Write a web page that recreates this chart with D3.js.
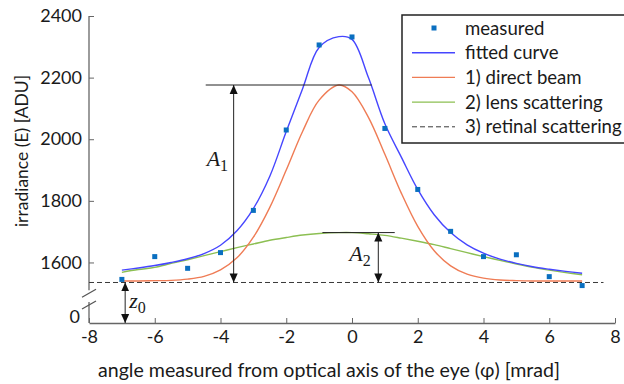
<!DOCTYPE html>
<html>
<head>
<meta charset="utf-8">
<script src="https://cdn.jsdelivr.net/npm/d3@7"></script>
<style>
body { margin: 0; background: #fff; }
text { font-family: Lato, "Open Sans", sans-serif; fill: #1a1a1a; }
</style>
</head>
<body>
<script>
// tick labels
var xTicks = [-8, -6, -4, -2, 0, 2, 4, 6, 8];
var yTicks = [0, 1600, 1800, 2000, 2200, 2400];

// measured points
var measuredX = [-7, -6, -5, -4, -3, -2, -1, 0, 1, 2, 3, 4, 5, 6, 7];
var measuredY = [1545, 1619, 1581, 1632, 1769, 2030, 2306, 2332, 2035, 1837, 1701, 1619, 1625, 1554, 1525];

// curves
var curveX  = [-7, -6.5, -6, -5.5, -5, -4.5, -4, -3.5, -3, -2.5, -2, -1.5, -1, -0.4, 0, 0.5, 1, 1.5, 2, 2.5, 3, 3.5, 4, 4.5, 5, 5.5, 6, 6.5, 7];
var fittedY = [1575, 1582, 1590, 1600, 1612, 1629, 1656, 1703, 1775, 1880, 2025, 2165, 2298, 2333, 2324, 2200, 2050, 1942, 1837, 1755, 1697, 1657, 1630, 1611, 1597, 1586, 1578, 1571, 1565];
var directY = [1540, 1540, 1541, 1542, 1546, 1555, 1576, 1615, 1682, 1779, 1900, 2026, 2127, 2176, 2154, 2071, 1951, 1825, 1717, 1638, 1589, 1562, 1549, 1543, 1541, 1540, 1540, 1540, 1540];
var lensY   = [1568, 1577, 1584, 1597, 1609, 1622, 1635, 1648, 1660, 1672, 1681, 1689, 1694, 1697, 1697, 1693, 1688, 1679, 1669, 1658, 1645, 1632, 1619, 1607, 1595, 1584, 1575, 1567, 1560];

// retinal scattering level and annotation values
var z0 = 1535;
var retinalX = [-8, 7.65];
var A1 = { x: -3.6, top: 2176, lineX: [-4.45, 0.6] };
var A2 = { x: 0.8, top: 1697, lineX: [-0.9, 1.3] };
var z0Arrow = { x: -6.9 };

var legendLabels = ["measured", "fitted curve", "1) direct beam", "2) lens scattering", "3) retinal scattering"];
var colors = { measured: "#0a6fc0", fitted: "#4646ff", direct: "#ef7c55", lens: "#8cbf52", retinal: "#3a3a3a" };

var W = 624, H = 384;
var svg = d3.select("body").append("svg").attr("width", W).attr("height", H);

var x = d3.scaleLinear().domain([-8, 8]).range([89, 615]);
// broken y axis: 0 at the bottom, then jump to ~1460
var y = d3.scaleLinear().domain([0, 1460, 2400]).range([323, 305.6, 16]);

// arrow marker
svg.append("defs").append("marker")
    .attr("id", "arrow")
    .attr("viewBox", "0 0 10 10")
    .attr("refX", 10).attr("refY", 5)
    .attr("markerUnits", "userSpaceOnUse")
    .attr("markerWidth", 9).attr("markerHeight", 9)
    .attr("orient", "auto-start-reverse")
    .append("path").attr("d", "M0,0.5L10,5L0,9.5z").attr("fill", "#111");

// x axis
var xAxis = svg.append("g")
    .attr("transform", "translate(0," + y(0) + ")")
    .call(d3.axisBottom(x).tickValues(xTicks).tickSizeInner(-5).tickSizeOuter(0).tickPadding(7)
      .tickFormat(function(d){ return String(d); }));
xAxis.selectAll("text").style("font-size", "18px");
xAxis.select(".domain").attr("stroke", "#666").attr("stroke-width", 1.3);
xAxis.selectAll(".tick line").attr("stroke", "#666");

// y axis
var yAxis = svg.append("g")
    .attr("transform", "translate(" + x(-8) + ",0)")
    .call(d3.axisLeft(y).tickValues(yTicks).tickSizeInner(-5).tickSizeOuter(0).tickPadding(7)
      .tickFormat(function(d){ return String(d); }));
yAxis.select(".domain").remove();
yAxis.selectAll(".tick line").attr("stroke", "#666").filter(function(d){ return d === 0; }).remove();
yAxis.selectAll("text").style("font-size", "18px");
yAxis.selectAll(".tick").filter(function(d){ return d === 0; }).select("text").attr("dy", "-0.05em").attr("x", -9);

// y axis line, with a break
var breakHi = 1510, breakLo = 1472;
var ax = x(-8);
svg.append("line").attr("x1", ax).attr("x2", ax).attr("y1", y(2400)).attr("y2", y(breakHi))
    .attr("stroke", "#666").attr("stroke-width", 1.3);
svg.append("line").attr("x1", ax).attr("x2", ax).attr("y1", y(breakLo)).attr("y2", y(0))
    .attr("stroke", "#666").attr("stroke-width", 1.3);
[breakHi, breakLo].forEach(function(v) {
  var yy = y(v) + 3;
  svg.append("line").attr("x1", ax - 7).attr("x2", ax + 7).attr("y1", yy + 4).attr("y2", yy - 4)
      .attr("stroke", "#555").attr("stroke-width", 1.2);
});

// axis titles
svg.append("text")
    .attr("x", 329).attr("y", 377)
    .attr("text-anchor", "middle")
    .style("font-size", "19.6px")
    .text("angle measured from optical axis of the eye (\u03C6) [mrad]");
svg.append("text")
    .attr("transform", "translate(28,151) rotate(-90)")
    .attr("text-anchor", "middle")
    .style("font-size", "17.5px")
    .text("irradiance (E) [ADU]");

// retinal scattering (dashed)
svg.append("line")
    .attr("x1", x(retinalX[0])).attr("x2", x(retinalX[1]))
    .attr("y1", y(z0)).attr("y2", y(z0))
    .attr("stroke", colors.retinal).attr("stroke-width", 1).attr("stroke-dasharray", "5,3");

// curves
function curveData(ys) { return curveX.map(function(d, i) { return [d, ys[i]]; }); }
var line = d3.line().x(function(d){ return x(d[0]); }).y(function(d){ return y(d[1]); }).curve(d3.curveCatmullRom.alpha(0.5));

[["lens", lensY], ["direct", directY], ["fitted", fittedY]].forEach(function(c) {
  svg.append("path").datum(curveData(c[1]))
      .attr("d", line)
      .attr("fill", "none")
      .attr("stroke", colors[c[0]])
      .attr("stroke-width", 1.4);
});

// measured squares
svg.selectAll(".pt")
    .data(measuredX.map(function(d, i){ return [d, measuredY[i]]; }))
    .enter().append("rect")
    .attr("class", "pt")
    .attr("x", function(d){ return x(d[0]) - 2.5; })
    .attr("y", function(d){ return y(d[1]) - 2.5; })
    .attr("width", 5).attr("height", 5)
    .attr("fill", colors.measured);

// annotations
var ann = svg.append("g").attr("stroke", "#222").attr("stroke-width", 1);
ann.append("line").attr("x1", x(A1.lineX[0])).attr("x2", x(A1.lineX[1])).attr("y1", y(A1.top)).attr("y2", y(A1.top));
ann.append("line").attr("x1", x(A1.x)).attr("x2", x(A1.x)).attr("y1", y(z0)).attr("y2", y(A1.top))
    .attr("marker-start", "url(#arrow)").attr("marker-end", "url(#arrow)");
ann.append("line").attr("x1", x(A2.lineX[0])).attr("x2", x(A2.lineX[1])).attr("y1", y(A2.top)).attr("y2", y(A2.top));
ann.append("line").attr("x1", x(A2.x)).attr("x2", x(A2.x)).attr("y1", y(z0)).attr("y2", y(A2.top))
    .attr("marker-start", "url(#arrow)").attr("marker-end", "url(#arrow)");
ann.append("line").attr("x1", x(z0Arrow.x)).attr("x2", x(z0Arrow.x)).attr("y1", y(0)).attr("y2", y(z0))
    .attr("marker-start", "url(#arrow)").attr("marker-end", "url(#arrow)");

function mathLabel(px, py, main, sub) {
  var t = svg.append("text").attr("x", px).attr("y", py)
      .style("font-family", "'Liberation Serif', 'DejaVu Serif', serif")
      .style("font-style", "italic").style("font-size", "22px");
  t.append("tspan").text(main);
  t.append("tspan").attr("dy", 5).style("font-style", "normal").style("font-size", "16px").text(sub);
}
mathLabel(x(A1.x) - 27, 166, "A", "1");
mathLabel(x(A2.x) - 29, 261, "A", "2");
mathLabel(x(z0Arrow.x) + 4, 308, "z", "0");

// legend
var lg = svg.append("g");
lg.append("rect").attr("x", 402).attr("y", 15).attr("width", 240).attr("height", 128)
    .attr("fill", "#fff").attr("stroke", "#222").attr("stroke-width", 1.5);
var keys = ["measured", "fitted", "direct", "lens", "retinal"];
legendLabels.forEach(function(lab, i) {
  var yy = 28 + i * 24.7;
  if (i === 0) {
    lg.append("rect").attr("x", 431.5).attr("y", yy - 2.5).attr("width", 5).attr("height", 5).attr("fill", colors.measured);
  } else {
    lg.append("line").attr("x1", 412).attr("x2", 455).attr("y1", yy).attr("y2", yy)
        .attr("stroke", colors[keys[i]]).attr("stroke-width", keys[i] === "retinal" ? 1 : 1.4)
        .attr("stroke-dasharray", keys[i] === "retinal" ? "5,3" : null);
  }
  lg.append("text").attr("x", 465).attr("y", yy).attr("dy", "0.35em").style("font-size", "18.6px").text(lab);
});
</script>
</body>
</html>
